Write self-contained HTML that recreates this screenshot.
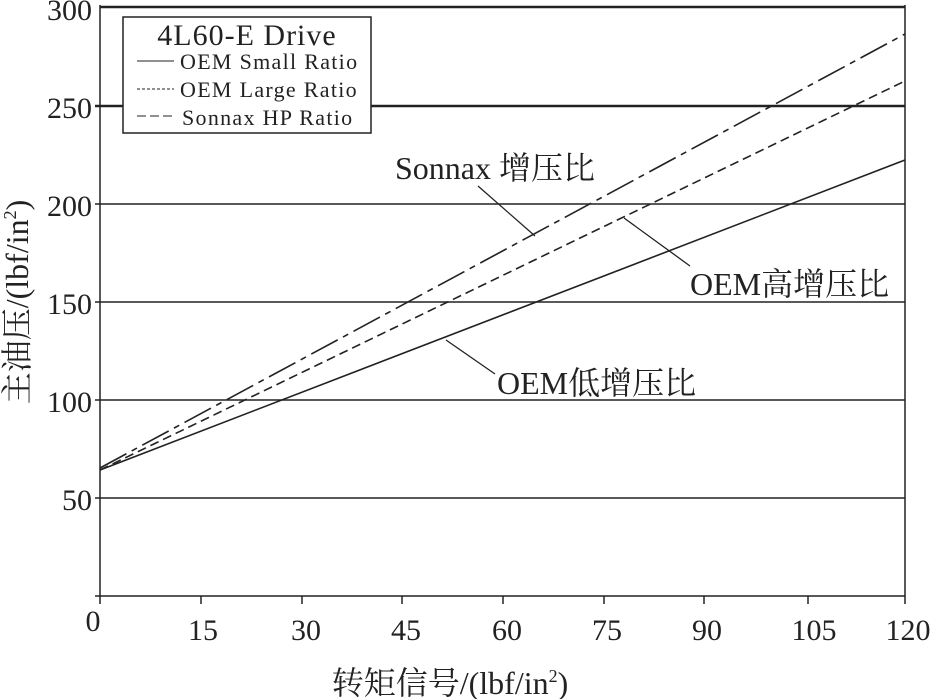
<!DOCTYPE html>
<html><head><meta charset="utf-8"><style>
html,body{margin:0;padding:0;background:#fff;}
svg{display:block;}
text{font-family:"Liberation Serif","Noto Serif CJK SC",serif;fill:#222;}
</style></head><body>
<svg width="937" height="699" viewBox="0 0 937 699" xmlns="http://www.w3.org/2000/svg">
<g stroke="#222" stroke-width="1.5">
<line x1="100" y1="7" x2="905" y2="7" stroke-width="2.5"/>
<line x1="95" y1="106" x2="905" y2="106" stroke-width="2.5"/>
<line x1="95" y1="204" x2="905" y2="204"/>
<line x1="95" y1="302" x2="905" y2="302"/>
<line x1="95" y1="400" x2="905" y2="400"/>
<line x1="95" y1="498" x2="905" y2="498"/>
<line x1="95" y1="596" x2="905" y2="596"/>
<line x1="100" y1="5" x2="100" y2="604"/>
<line x1="905" y1="5" x2="905" y2="604"/>
<line x1="201" y1="596" x2="201" y2="604"/>
<line x1="302" y1="596" x2="302" y2="604"/>
<line x1="402" y1="596" x2="402" y2="604"/>
<line x1="503" y1="596" x2="503" y2="604"/>
<line x1="604" y1="596" x2="604" y2="604"/>
<line x1="704" y1="596" x2="704" y2="604"/>
<line x1="808" y1="596" x2="808" y2="604"/>
</g>
<g font-size="30" text-anchor="end">
<text x="92" y="20">300</text><text x="92" y="118">250</text><text x="92" y="216">200</text>
<text x="92" y="314">150</text><text x="92" y="412">100</text><text x="92" y="510">50</text>
</g>
<g font-size="30" text-anchor="middle">
<text x="93" y="631">0</text><text x="203" y="640">15</text><text x="306" y="640">30</text>
<text x="406" y="640">45</text><text x="507" y="640">60</text><text x="607" y="640">75</text>
<text x="707" y="640">90</text><text x="814" y="640">105</text><text x="908" y="640">120</text>
</g>
<g stroke="#222" stroke-width="1.6" fill="none">
<line x1="100" y1="470" x2="905" y2="160"/>
<line x1="100" y1="470" x2="905" y2="81" stroke-dasharray="9,5"/>
<line x1="100" y1="468" x2="905" y2="34" stroke-dasharray="30,6,6,6"/>
<line x1="478" y1="186" x2="535" y2="236" stroke-width="1.3"/>
<line x1="690" y1="266" x2="624" y2="218" stroke-width="1.3"/>
<line x1="495" y1="374" x2="446" y2="340" stroke-width="1.3"/>
</g>
<g font-size="32">
<text x="395" y="179">Sonnax 增压比</text>
<text x="690" y="295">OEM高增压比</text>
<text x="497" y="394">OEM低增压比</text>
</g>
<rect x="123" y="17" width="248" height="116" fill="#fff" stroke="#222" stroke-width="1.5"/>
<text x="247" y="45" font-size="30" letter-spacing="1" text-anchor="middle">4L60-E Drive</text>
<g stroke="#222" stroke-width="1">
<line x1="137" y1="61" x2="174" y2="61"/>
<line x1="137" y1="89" x2="174" y2="89" stroke-dasharray="3,2"/>
<line x1="137" y1="116" x2="174" y2="116" stroke-dasharray="9,4"/>
</g>
<g font-size="22" letter-spacing="1.3">
<text x="180" y="69">OEM Small Ratio</text>
<text x="180" y="97">OEM Large Ratio</text>
<text x="182" y="125">Sonnax HP Ratio</text>
</g>
<text x="450" y="694" font-size="32" text-anchor="middle">转矩信号/(lbf/in<tspan font-size="18" dy="-12">2</tspan><tspan dy="12">)</tspan></text>
<text transform="translate(28,302) rotate(-90)" font-size="32" text-anchor="middle">主油压/(lbf/in<tspan font-size="18" dy="-12">2</tspan><tspan dy="12">)</tspan></text>
</svg>
</body></html>
